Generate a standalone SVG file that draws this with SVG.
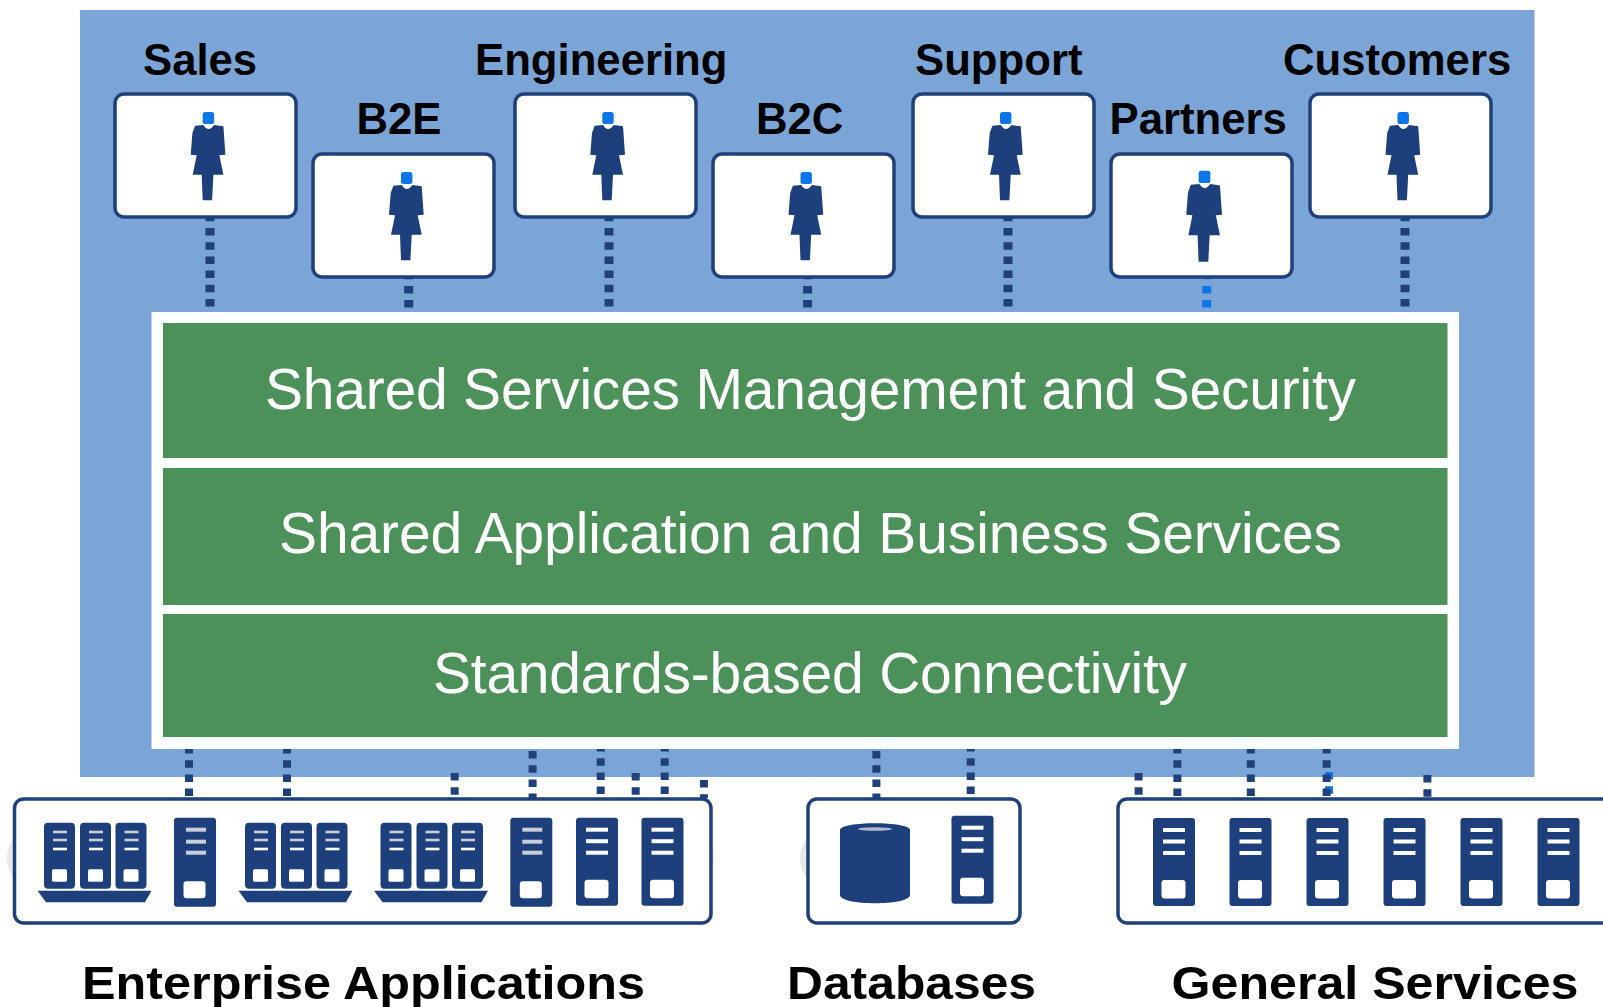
<svg xmlns="http://www.w3.org/2000/svg" width="1603" height="1007" viewBox="0 0 1603 1007">
<style>
text{font-family:"Liberation Sans",Arial,sans-serif}
.lbl{font-weight:700;font-size:43.7px;fill:#000;text-anchor:start}
.cap{font-weight:700;font-size:47px;fill:#000}
.band{font-size:57px;fill:#fff}
.green{fill:#4c9159}
.box{fill:#fff;stroke:#1f4079;stroke-width:3.5}
.conn line{stroke:#1f4079;stroke-width:8;stroke-dasharray:7.5 6.7;fill:none}
.conn line.top{stroke-width:9}
.conn line.blue{stroke:#0a76e8}
.d{fill:#1d3f7c}
.w{fill:#fff}
.g{fill:#c9ced8}
.halo{fill:#e9e9e9}
</style>
<defs>
<g id="person">
<rect x="-5.7" y="0" width="11.4" height="12" rx="2.5" fill="#0a76e8"/>
<path class="d" d="M-13.3,13.7 L-5,13 Q0,21 5.7,13 L15,14.3 L17,42.7 L11,43.3 L15,62.7 L5,62.7 L3.7,88.3 L-5.7,88.3 L-6.7,62.7 L-15.7,62.7 L-11.7,43.3 L-17.7,42.7 L-16,21 Z"/>
</g>
<g id="server">
<rect class="d" width="42" height="88" rx="3"/>
<rect class="w" x="10" y="10" width="22" height="4"/>
<rect class="w" x="10" y="21.5" width="22" height="4"/>
<rect class="w" x="10" y="33" width="22" height="4"/>
<rect class="w" x="8.5" y="62" width="24" height="18.5" rx="3"/>
</g>
<g id="serverg">
<rect class="d" width="42" height="89" rx="3"/>
<rect class="g" x="12" y="10" width="20" height="4"/>
<rect class="g" x="12" y="22" width="20" height="4"/>
<rect class="g" x="12" y="33" width="20" height="4"/>
<rect class="w" x="9.5" y="63.5" width="22" height="17" rx="3"/>
</g>
<g id="blade">
<rect class="d" width="31" height="66" rx="4"/>
<rect class="g" x="9" y="8" width="14" height="2.6"/>
<rect class="g" x="9" y="16" width="14" height="2.6"/>
<rect class="w" x="9" y="25" width="14" height="2.6"/>
<rect class="w" x="8" y="46.5" width="15" height="12.5" rx="1.5"/>
</g>
<g id="rack">
<use href="#blade" x="0" y="0"/>
<use href="#blade" x="36" y="0"/>
<use href="#blade" x="71.5" y="0"/>
<path class="d" d="M-6.5,68 H107.5 L101,79.5 H2 Z"/>
</g>
</defs>
<rect width="1603" height="1007" fill="#fff"/>
<rect id="backdrop" x="80" y="10" width="1454.5" height="767" fill="#7ba5d6"/>

<g id="connectors" class="conn">
<line class="top" x1="210" y1="213.8" x2="210" y2="307"/>
<line class="top" x1="408.7" y1="271.7" x2="408.7" y2="311"/>
<line class="top" x1="609" y1="213.8" x2="609" y2="307"/>
<line class="top" x1="807.6" y1="271.7" x2="807.6" y2="311"/>
<line class="top" x1="1008" y1="213.8" x2="1008" y2="307"/>
<line class="top blue" x1="1206.7" y1="271.7" x2="1206.7" y2="311"/>
<line class="top" x1="1405" y1="213.8" x2="1405" y2="307"/>
<line x1="189" y1="746" x2="189" y2="798"/>
<line x1="287" y1="746" x2="287" y2="798"/>
<line x1="454.7" y1="773" x2="454.7" y2="798"/>
<line x1="532.6" y1="751" x2="532.6" y2="798"/>
<line x1="600.7" y1="744" x2="600.7" y2="798"/>
<line x1="635.7" y1="773" x2="635.7" y2="798"/>
<line x1="664.7" y1="744" x2="664.7" y2="798"/>
<line x1="703.9" y1="780" x2="703.9" y2="798"/>
<line x1="876.4" y1="751" x2="876.4" y2="798"/>
<line x1="970.7" y1="744" x2="970.7" y2="798"/>
<line x1="1138.6" y1="773" x2="1138.6" y2="798"/>
<line x1="1177.4" y1="746" x2="1177.4" y2="798"/>
<line x1="1250.8" y1="746" x2="1250.8" y2="798"/>
<line class="blue" x1="1329" y1="772" x2="1329" y2="798"/>
<line x1="1326.6" y1="746" x2="1326.6" y2="798"/>
<line x1="1427.4" y1="775" x2="1427.4" y2="798"/>
</g>

<g id="sales"><text class="lbl" x="143" y="75">Sales</text><rect class="box" x="115" y="94" width="181" height="123" rx="9"/><use href="#person" x="208.4" y="112"/></g>
<g id="b2e"><text class="lbl" x="356.5" y="134">B2E</text><rect class="box" x="313" y="154" width="181" height="123" rx="9"/><use href="#person" x="406.7" y="172"/></g>
<g id="engineering"><text class="lbl" x="475" y="75">Engineering</text><rect class="box" x="515" y="94" width="181" height="123" rx="9"/><use href="#person" x="608" y="112"/></g>
<g id="b2c"><text class="lbl" x="756" y="134">B2C</text><rect class="box" x="713" y="154" width="181" height="123" rx="9"/><use href="#person" x="806.2" y="172"/></g>
<g id="support"><text class="lbl" x="915" y="75">Support</text><rect class="box" x="913" y="94" width="181" height="123" rx="9"/><use href="#person" x="1005.7" y="112"/></g>
<g id="partners"><text class="lbl" x="1109.5" y="134">Partners</text><rect class="box" x="1111" y="154" width="181" height="123" rx="9"/><use href="#person" transform="translate(1204.5 170.7) scale(1.03)"/></g>
<g id="customers"><text class="lbl" x="1283" y="75">Customers</text><rect class="box" x="1310" y="94" width="181" height="123" rx="9"/><use href="#person" x="1403.2" y="112"/></g>

<g id="platform">
<rect x="151.5" y="312" width="1307.5" height="437" fill="#fff"/>
<rect class="green" x="163" y="323" width="1284.5" height="135"/>
<rect class="green" x="163" y="468" width="1284.5" height="137"/>
<rect class="green" x="163" y="614" width="1284.5" height="123"/>
<text class="band" x="265" y="409" textLength="1091">Shared Services Management and Security</text>
<text class="band" x="279" y="553" textLength="1063">Shared Application and Business Services</text>
<text class="band" x="433" y="693" textLength="754">Standards-based Connectivity</text>
</g>

<g id="enterprise-applications">
<ellipse class="halo" cx="20" cy="858" rx="13" ry="22"/>
<ellipse class="halo" cx="704" cy="858" rx="10" ry="22"/>
<rect class="box" x="14.5" y="799" width="696.5" height="124" rx="9"/>
<use href="#rack" x="44" y="822.7"/>
<use href="#serverg" x="174" y="817.7"/>
<use href="#rack" x="245" y="822.7"/>
<use href="#rack" x="380.5" y="822.7"/>
<use href="#serverg" x="510.3" y="817.7"/>
<use href="#server" x="576" y="817.7"/>
<use href="#server" x="641.5" y="817.7"/>
<text class="cap" x="82" y="999" textLength="563" lengthAdjust="spacingAndGlyphs">Enterprise Applications</text>
</g>
<g id="databases">
<ellipse class="halo" cx="813" cy="858" rx="13" ry="22"/>
<rect class="box" x="808" y="799" width="212" height="124" rx="9"/>
<path class="d" d="M840,830 C840,821 910,821 910,830 V895 C910,906 840,906 840,895 Z"/>
<ellipse cx="875" cy="829" rx="17" ry="1.8" fill="#aeb9cf"/>
<use href="#server" x="951.5" y="815.7"/>
<text class="cap" x="787" y="999" textLength="249" lengthAdjust="spacingAndGlyphs">Databases</text>
</g>
<g id="general-services">
<rect class="box" x="1118" y="799" width="500" height="124" rx="9"/>
<use href="#server" x="1153" y="818"/>
<use href="#server" x="1229.5" y="818"/>
<use href="#server" x="1306.5" y="818"/>
<use href="#server" x="1383.5" y="818"/>
<use href="#server" x="1460.5" y="818"/>
<use href="#server" x="1537.5" y="818"/>
<text class="cap" x="1171.5" y="999" textLength="407" lengthAdjust="spacingAndGlyphs">General Services</text>
</g>
</svg>
